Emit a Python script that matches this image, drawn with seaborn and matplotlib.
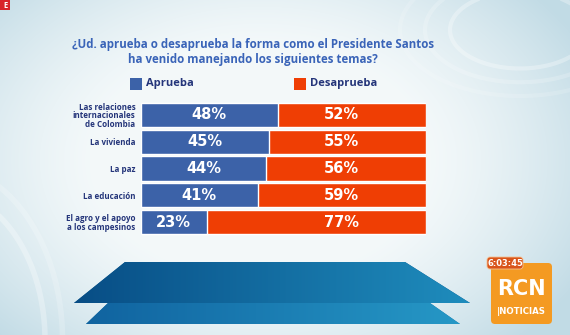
import numpy as np
import pandas as pd
import matplotlib
matplotlib.use("Agg")
import matplotlib.pyplot as plt
import seaborn as sns
from matplotlib.patches import Rectangle, Polygon, FancyBboxPatch

# Survey data
temas = [
    "Las relaciones\ninternacionales\nde Colombia",
    "La vivienda",
    "La paz",
    "La educación",
    "El agro y el apoyo\na los campesinos",
]
aprueba = [48, 45, 44, 41, 23]
desaprueba = [52, 55, 56, 59, 77]
series_names = ["Aprueba", "Desaprueba"]
titulo = "¿Ud. aprueba o desaprueba la forma como el Presidente Santos\nha venido manejando los siguientes temas?"

BLUE = "#3c62a8"
RED = "#ef3e04"
NAVY = "#24357a"
TITLE_BLUE = "#3a64b8"

W, H = 570, 335
sns.set_theme(style="white")
plt.rcParams["font.family"] = ["Open Sans", "DejaVu Sans"]

fig = plt.figure(figsize=(W / 100, H / 100), dpi=100)


def fx(px):
    return px / W


def fy(py):
    return 1 - py / H


# ---- background gradient ----
bg = fig.add_axes([0, 0, 1, 1], zorder=0)
bg.set_axis_off()
yy, xx = np.mgrid[0:H, 0:W]
light = np.array([0.955, 0.975, 0.98])
blue = np.array([0.76, 0.86, 0.90])
d = np.sqrt(((xx - 260) / 330.0) ** 2 + ((yy - 160) / 230.0) ** 2)
f = np.clip((d - 0.5) / 0.6, 0, 1) ** 1.3
img = light[None, None, :] * (1 - f[..., None]) + blue[None, None, :] * f[..., None]
bg.imshow(img, extent=[0, W, H, 0], aspect="auto")
bg.set_xlim(0, W)
bg.set_ylim(H, 0)

# faint decorative arcs
for r, a in [(70, 0.3), (95, 0.2), (120, 0.15)]:
    t = np.linspace(0, 2 * np.pi, 200)
    bg.plot(520 + r * np.cos(t), 30 + 0.55 * r * np.sin(t), color="white", lw=3, alpha=a)
for r, a in [(150, 0.3), (175, 0.2)]:
    t = np.linspace(-0.2, 1.6, 100)
    bg.plot(-60 + r * np.cos(t) * 0.7, 340 - r * np.sin(t), color="white", lw=4, alpha=a)

# podium shapes
top = Polygon([[125, 262], [405, 262], [470, 303], [74, 303]], closed=True,
              facecolor="#0d5a92", edgecolor="none")
low = Polygon([[108, 303], [430, 303], [460, 324], [86, 324]], closed=True,
              facecolor="#1774ab", edgecolor="none")
bg.add_patch(top)
bg.add_patch(low)
grad = np.linspace(0, 1, 200)[None, :] * np.ones((40, 1))
for poly, c0, c1 in [(top, (0.03, 0.30, 0.52), (0.12, 0.55, 0.74)),
                     (low, (0.06, 0.38, 0.62), (0.15, 0.60, 0.78))]:
    gimg = np.zeros((40, 200, 3))
    for k in range(3):
        gimg[..., k] = c0[k] + (c1[k] - c0[k]) * grad
    im = bg.imshow(gimg, extent=[70, 470, 324, 262], aspect="auto", zorder=2)
    im.set_clip_path(poly)

# channel corner tag
bg.add_patch(Rectangle((0, 0), 10, 10, facecolor="#d8232a", edgecolor="none"))
bg.text(5, 5.5, "E", color="white", fontsize=5.5, fontweight="bold",
        ha="center", va="center")

# logo box
bg.add_patch(FancyBboxPatch((491, 263), 61, 61, boxstyle="round,pad=0,rounding_size=4",
                            facecolor="#f49a22", edgecolor="none", zorder=3))
bg.text(521, 289, "RCN", color="white", fontsize=15, fontweight="bold",
        ha="center", va="center", zorder=4, family=["DejaVu Sans"])
bg.text(521, 311, "|NOTICIAS", color="white", fontsize=6.2, fontweight="bold",
        ha="center", va="center", zorder=4, family=["DejaVu Sans"])
bg.add_patch(FancyBboxPatch((487, 257), 36, 12, boxstyle="round,pad=0,rounding_size=3",
                            facecolor="#d9541a", edgecolor="#f4c090", lw=0.6, zorder=5))
bg.text(505, 263.5, "6:03:45", color="white", fontsize=6, fontweight="bold",
        ha="center", va="center", zorder=6, family=["DejaVu Sans"])

# ---- title ----
fig.text(fx(253), fy(52), titulo, ha="center", va="center", color=TITLE_BLUE,
         fontsize=8.3, fontweight="bold", linespacing=1.2, zorder=5)

# ---- legend ----
for px, name, col in [(130, series_names[0], BLUE), (294, series_names[1], RED)]:
    fig.patches.append(Rectangle((fx(px), fy(90)), fx(12), 12 / H, facecolor=col,
                                 edgecolor="none", transform=fig.transFigure, zorder=5))
    fig.text(fx(px + 16), fy(83.5), name, ha="left", va="center", color=NAVY,
             fontsize=8, fontweight="bold", zorder=5)

# ---- stacked bars ----
df = pd.DataFrame({"tema": temas, "Aprueba": aprueba, "Desaprueba": desaprueba})
df["total"] = df["Aprueba"] + df["Desaprueba"]

ax = fig.add_axes([fx(141), fy(235.5), fx(285), 134 / H], zorder=2)
ax.patch.set_alpha(0)
sns.barplot(data=df, y="tema", x="total", order=temas, color=RED, saturation=1,
            width=0.9, orient="h", ax=ax)
sns.barplot(data=df, y="tema", x="Aprueba", order=temas, color=BLUE, saturation=1,
            width=0.9, orient="h", ax=ax)

for i, (a, d_) in enumerate(zip(aprueba, desaprueba)):
    ax.text(a / 2, i, f"{a}%", ha="center", va="center", color="white",
            fontsize=10.5, fontweight="bold", family=["DejaVu Sans"])
    ax.text(70.3, i, f"{d_}%", ha="center", va="center", color="white",
            fontsize=10.5, fontweight="bold", family=["DejaVu Sans"])

ax.set_xlim(0, 100)
ax.set_ylim(4.5, -0.5)
ax.set_xlabel("")
ax.set_ylabel("")
ax.set_xticks([])
ax.tick_params(axis="y", length=0, pad=4)
ax.set_yticks(range(len(temas)))
ax.set_yticklabels(temas, fontsize=5.8, fontweight="bold", color=NAVY,
                   linespacing=0.95)
for s in ax.spines.values():
    s.set_visible(False)

fig.savefig("out.png", dpi=100)
